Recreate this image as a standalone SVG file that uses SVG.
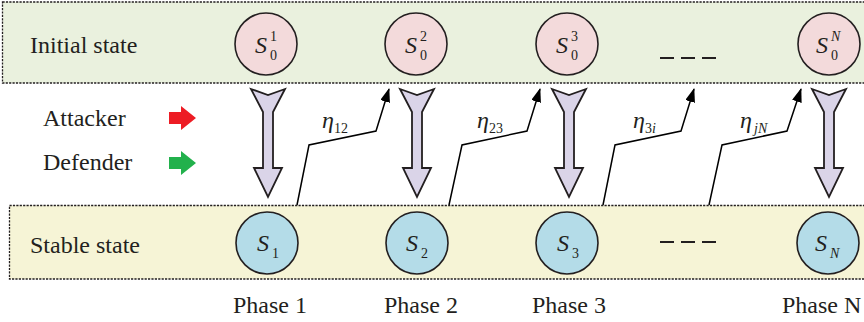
<svg xmlns="http://www.w3.org/2000/svg" width="864" height="322" viewBox="0 0 864 322">
<defs>
<style>
.box{stroke:#231f20;stroke-width:1.3;stroke-dasharray:2.2,1.2}
text{font-family:'Liberation Serif','Times New Roman',serif;fill:#231f20}
.lbl{font-size:24px}
.it{font-style:italic;font-size:24px}
.sub{font-size:14px}
.subi{font-style:italic;font-size:14px}
.top{fill:#f3dadb;stroke:#231f20;stroke-width:1.6}
.bot{fill:#b4dce8;stroke:#231f20;stroke-width:1.6}
.blk{fill:#dad4e8;stroke:#231f20;stroke-width:1.8;stroke-linejoin:miter}
.con{fill:none;stroke:#000;stroke-width:1.5}
.dash{stroke:#231f20;stroke-width:2}
</style>
<marker id="ah2" viewBox="0 0 14 10" refX="13" refY="5" markerWidth="14" markerHeight="10" markerUnits="userSpaceOnUse" orient="auto">
<path d="M0,0 L14,5 L0,10 Z" fill="#000"/>
</marker>
<path id="blockArrow" d="M-17,89 L0,95 L17,89 L5,112 L5,168 L14,168 L0,197 L-14,168 L-5,168 L-5,112 Z"/>
</defs>

<g id="initial-band">
<rect class="box" x="2.5" y="2" width="870" height="81" fill="#eaf1de"/>
<text class="lbl" x="30" y="53">Initial state</text>
</g>
<g id="stable-band">
<rect class="box" x="9.5" y="205.5" width="870" height="73.5" fill="#f6f4d6"/>
<text class="lbl" x="30" y="253">Stable state</text>
</g>

<g id="legend">
<text class="lbl" x="43" y="126">Attacker</text>
<text class="lbl" x="43" y="170">Defender</text>
<path d="M169,112 L181,112 L181,106 L196,118 L181,130 L181,124 L169,124 Z" fill="#ed1c24"/>
<path d="M169,157 L181,157 L181,151 L196,163 L181,175 L181,169 L169,169 Z" fill="#22b14c"/>
</g>

<g id="S0_1">
<circle class="top" cx="266" cy="44" r="31"/>
<text class="it" x="255" y="53">S</text><text class="sub" x="270" y="41">1</text><text class="sub" x="270" y="60">0</text>
</g>
<g id="S0_2">
<circle class="top" cx="416" cy="44" r="31"/>
<text class="it" x="405" y="53">S</text><text class="sub" x="420" y="41">2</text><text class="sub" x="420" y="60">0</text>
</g>
<g id="S0_3">
<circle class="top" cx="567" cy="44" r="31"/>
<text class="it" x="556" y="53">S</text><text class="sub" x="571" y="41">3</text><text class="sub" x="571" y="60">0</text>
</g>
<g id="S0_N">
<circle class="top" cx="829" cy="44" r="31"/>
<text class="it" x="816" y="53">S</text><text class="subi" x="831" y="41">N</text><text class="sub" x="831" y="60">0</text>
</g>

<g id="S_1">
<circle class="bot" cx="267" cy="243" r="31"/>
<text class="it" x="257" y="251">S</text><text class="sub" x="272" y="258">1</text>
</g>
<g id="S_2">
<circle class="bot" cx="417" cy="243" r="31"/>
<text class="it" x="406" y="251">S</text><text class="sub" x="421" y="258">2</text>
</g>
<g id="S_3">
<circle class="bot" cx="567" cy="243" r="31"/>
<text class="it" x="557" y="251">S</text><text class="sub" x="572" y="258">3</text>
</g>
<g id="S_N">
<circle class="bot" cx="828" cy="243" r="31"/>
<text class="it" x="815" y="251">S</text><text class="subi" x="830" y="258">N</text>
</g>

<g id="ellipsis-top">
<line class="dash" x1="660" y1="58" x2="674" y2="58"/>
<line class="dash" x1="681" y1="58" x2="695" y2="58"/>
<line class="dash" x1="702" y1="58" x2="716" y2="58"/>
</g>
<g id="ellipsis-bottom">
<line class="dash" x1="660" y1="242" x2="674" y2="242"/>
<line class="dash" x1="681" y1="242" x2="695" y2="242"/>
<line class="dash" x1="702" y1="242" x2="716" y2="242"/>
</g>

<g id="connectors">
<use href="#blockArrow" class="blk" transform="translate(268,0)"/>
<use href="#blockArrow" class="blk" transform="translate(417,0)"/>
<use href="#blockArrow" class="blk" transform="translate(569,0)"/>
<use href="#blockArrow" class="blk" transform="translate(829,0)"/>
<polyline class="con" points="297,205 309,145 376,131 389,89" marker-end="url(#ah2)"/>
<polyline class="con" points="449,205 462,145 527,131 540,89" marker-end="url(#ah2)"/>
<polyline class="con" points="603,205 615,145 681,131 694,89" marker-end="url(#ah2)"/>
<polyline class="con" points="709,205 722,145 787,131 801,89" marker-end="url(#ah2)"/>
</g>

<g id="eta-labels">
<text class="it" x="322" y="128">η</text><text class="sub" x="334" y="133">12</text>
<text class="it" x="477" y="128">η</text><text class="sub" x="489" y="133">23</text>
<text class="it" x="633" y="128">η</text><text class="sub" x="645" y="133">3<tspan font-style="italic">i</tspan></text>
<text class="it" x="740" y="128">η</text><text class="subi" x="754" y="133">jN</text>
</g>

<g id="phase-labels">
<text class="lbl" x="233" y="313">Phase 1</text>
<text class="lbl" x="384" y="313">Phase 2</text>
<text class="lbl" x="532" y="313">Phase 3</text>
<text class="lbl" x="782" y="313">Phase N</text>
</g>
</svg>
